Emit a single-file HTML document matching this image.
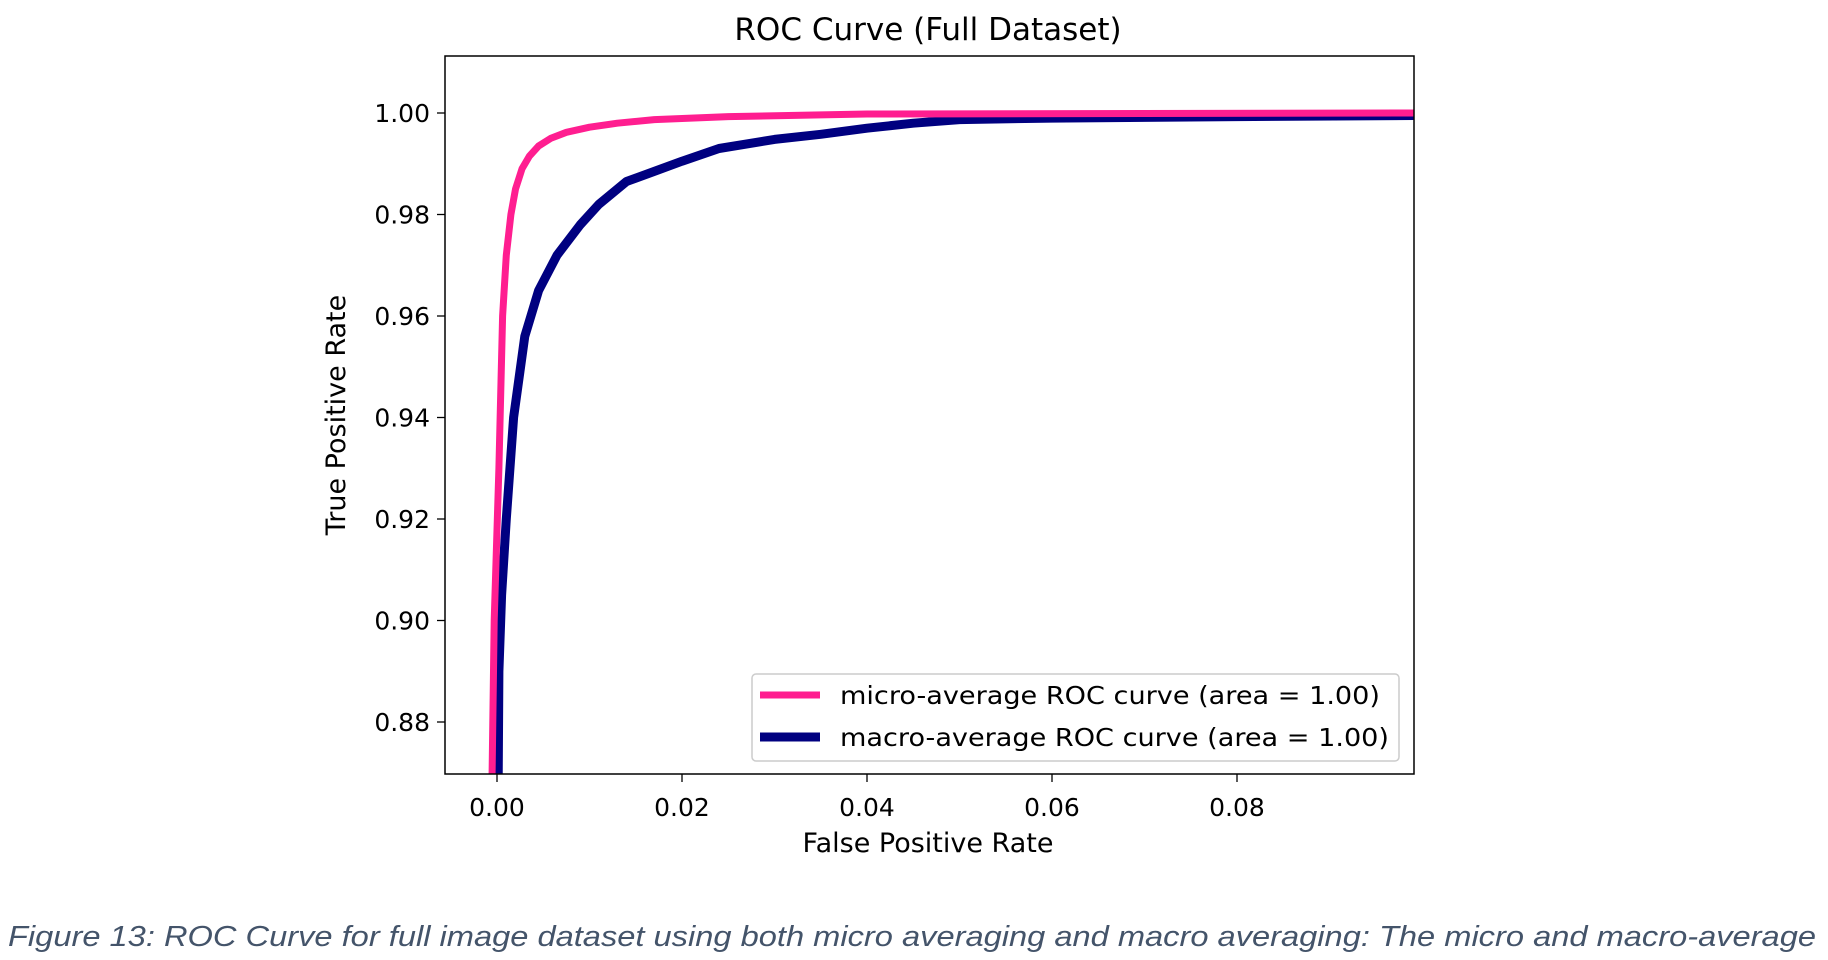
<!DOCTYPE html>
<html><head><meta charset="utf-8"><style>
html,body{margin:0;padding:0;background:#fff;width:1828px;height:960px;overflow:hidden}
svg{display:block}
text{font-family:"DejaVu Sans","Liberation Sans",sans-serif;fill:#000}
</style></head><body>
<svg id="s" width="1828" height="960" xmlns="http://www.w3.org/2000/svg">
<text x="928" y="40" font-size="31" text-anchor="middle">ROC Curve (Full Dataset)</text>
<defs><clipPath id="c"><rect x="445" y="56" width="969" height="718"/></clipPath></defs>
<g clip-path="url(#c)">
<path id="macro" fill="none" stroke="#000080" stroke-width="9" stroke-linejoin="round"/>
<path id="micro" fill="none" stroke="#ff1e90" stroke-width="7" stroke-linejoin="round"/>
</g>
<rect x="445" y="56" width="969" height="718" fill="none" stroke="#000" stroke-width="1.5"/>
<g id="ticks" font-size="25"></g>
<text x="928" y="852" font-size="27" text-anchor="middle">False Positive Rate</text>
<text transform="translate(345,415) rotate(-90)" font-size="27" text-anchor="middle">True Positive Rate</text>
<rect x="752" y="674" width="647" height="87" rx="4" fill="#fff" fill-opacity="0.8" stroke="#ccc" stroke-width="1.5"/>
<line x1="760" y1="695" x2="820" y2="695" stroke="#ff1e90" stroke-width="7"/>
<line x1="760" y1="737" x2="820" y2="737" stroke="#000080" stroke-width="9"/>
<text x="840" y="704" font-size="25" textLength="540" lengthAdjust="spacingAndGlyphs">micro-average ROC curve (area = 1.00)</text>
<text x="840" y="746" font-size="25" textLength="549" lengthAdjust="spacingAndGlyphs">macro-average ROC curve (area = 1.00)</text>
<text x="8" y="946" font-size="29" font-style="italic" textLength="1808" lengthAdjust="spacingAndGlyphs" style="fill:#44546a;font-family:'Liberation Sans',sans-serif">Figure 13: ROC Curve for full image dataset using both micro averaging and macro averaging: The micro and macro-average</text>
</svg>
<script>
function X(f){return 497+f*9250}
function Y(t){return 113-(t-1)*5075}
function p(a){return a.map((q,i)=>(i?'L':'M')+X(q[0]).toFixed(1)+' '+Y(q[1]).toFixed(1)).join(' ')}
document.getElementById('micro').setAttribute('d',p([[-0.0006,0.86],[-0.0003,0.90],[0.0002,0.93],[0.0006,0.96],[0.001,0.972],[0.0015,0.98],[0.002,0.985],[0.0027,0.989],[0.0035,0.9915],[0.0045,0.9935],[0.0058,0.995],[0.0075,0.9962],[0.01,0.9972],[0.013,0.998],[0.017,0.9987],[0.025,0.9993],[0.04,0.9998],[0.1,1.0]]));
document.getElementById('macro').setAttribute('d',p([[0.0001,0.86],[0.0002,0.89],[0.0005,0.905],[0.001,0.92],[0.0018,0.94],[0.003,0.956],[0.0045,0.965],[0.0065,0.972],[0.009,0.978],[0.011,0.982],[0.014,0.9865],[0.017,0.9885],[0.02,0.9905],[0.024,0.993],[0.03,0.9948],[0.035,0.9958],[0.04,0.997],[0.045,0.998],[0.05,0.9987],[0.06,0.999],[0.08,0.9993],[0.1,0.9995]]));
var g=document.getElementById('ticks'),h='';
for(var i=0;i<5;i++){var x=X(i*0.02);h+='<line x1="'+x+'" y1="774" x2="'+x+'" y2="782" stroke="#000" stroke-width="1.3"/><text x="'+x+'" y="816" text-anchor="middle">'+(i*0.02).toFixed(2)+'</text>';}
for(var j=0;j<7;j++){var v=0.88+j*0.02,y=Y(v);h+='<line x1="437" y1="'+y+'" x2="445" y2="'+y+'" stroke="#000" stroke-width="1.3"/><text x="430" y="'+(y+9)+'" text-anchor="end">'+v.toFixed(2)+'</text>';}
g.innerHTML=h;
</script>
</body></html>
